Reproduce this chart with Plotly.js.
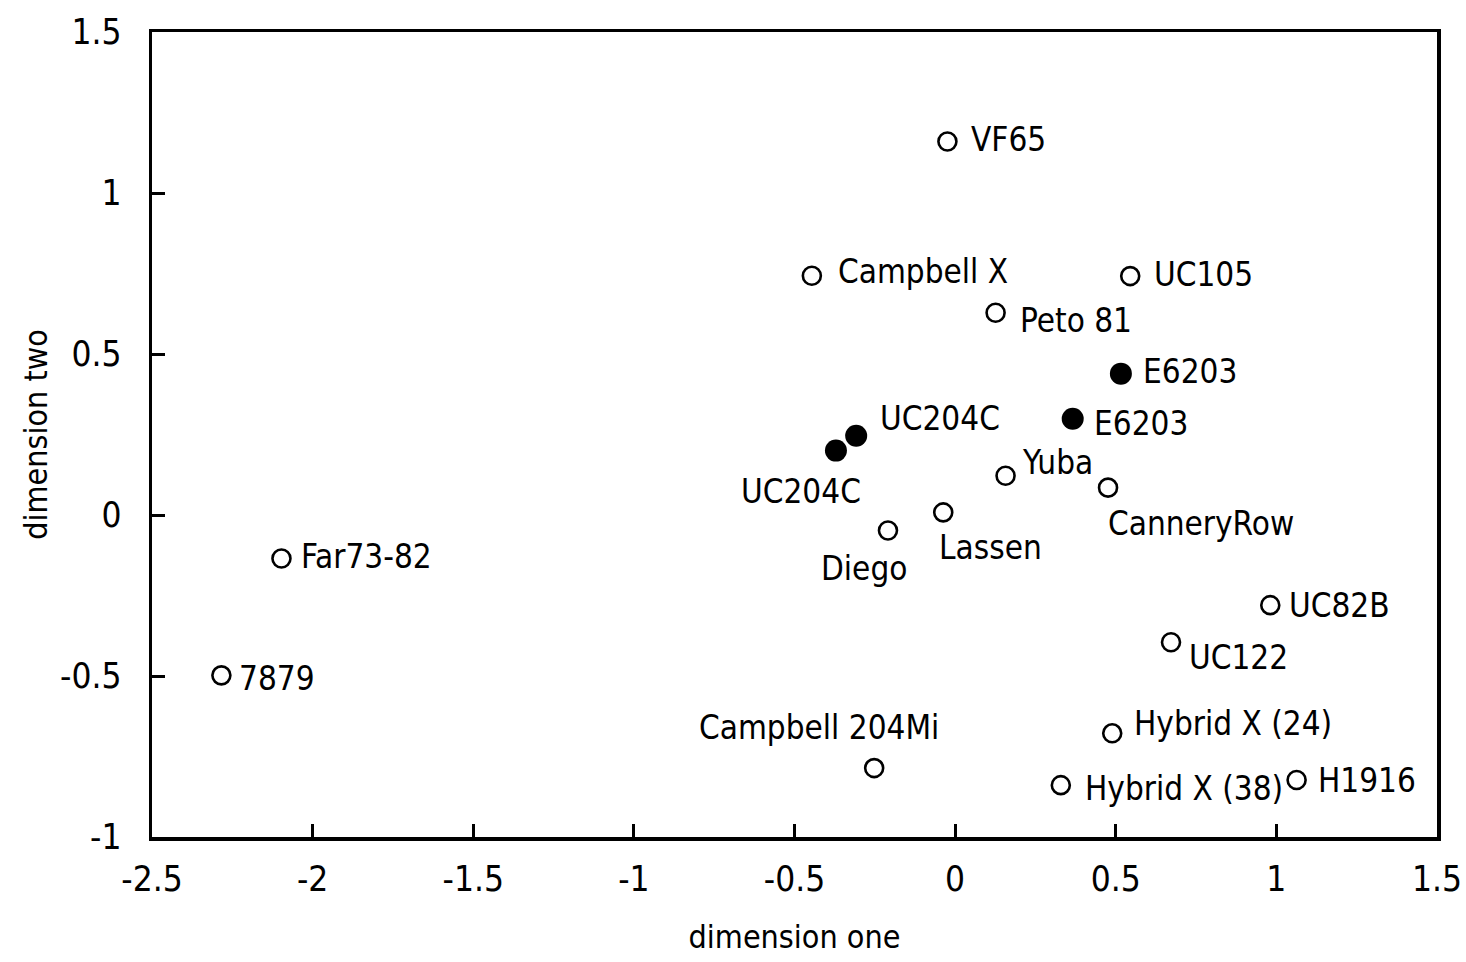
<!DOCTYPE html>
<html>
<head>
<meta charset="utf-8">
<script src="https://cdn.plot.ly/plotly-3.0.1.min.js"></script>
<style>html,body{margin:0;padding:0;background:#fff;}#chart{width:1466px;height:962px;}</style>
</head>
<body>
<div id="chart"></div>
<script>
// ---- data ----
const names = ["VF65","Campbell X","UC105","Peto 81","E6203","E6203","UC204C","UC204C","Yuba","CanneryRow","Lassen","Diego","Far73-82","7879","UC82B","UC122","Hybrid X (24)","Campbell 204Mi","Hybrid X (38)","H1916"];
const dimOne = [-0.024,-0.446,0.545,0.126,0.516,0.366,-0.308,-0.371,0.157,0.476,-0.037,-0.209,-2.097,-2.284,0.981,0.672,0.489,-0.252,0.329,1.063];
const dimTwo = [1.16,0.743,0.742,0.628,0.439,0.299,0.246,0.200,0.122,0.085,0.008,-0.048,-0.135,-0.498,-0.280,-0.395,-0.678,-0.786,-0.839,-0.823];
const filled = [false,false,false,false,true,true,true,true,false,false,false,false,false,false,false,false,false,false,false,false];
const xTickVals = [-2.5,-2,-1.5,-1,-0.5,0,0.5,1,1.5];
const xTickText = ["-2.5","-2","-1.5","-1","-0.5","0","0.5","1","1.5"];
const yTickVals = [-1,-0.5,0,0.5,1,1.5];
const yTickText = ["-1","-0.5","0","0.5","1","1.5"];

// ---- label placement (style only) ----
const labelPlace = [
  {xa:"left",dx:22,dy:2},
  {xa:"left",dx:24,dy:4},
  {xa:"left",dx:22,dy:2},
  {xa:"left",dx:22,dy:-8},
  {xa:"left",dx:20,dy:2},
  {xa:"left",dx:19,dy:-5},
  {xa:"left",dx:22,dy:17},
  {xa:"right",dx:27,dy:-41},
  {xa:"left",dx:14,dy:13},
  {xa:"left",dx:-2,dy:-36},
  {xa:"left",dx:-6,dy:-35},
  {xa:"center",dx:-24,dy:-38},
  {xa:"left",dx:18,dy:2},
  {xa:"left",dx:16,dy:-3},
  {xa:"left",dx:17,dy:0},
  {xa:"left",dx:16,dy:-15},
  {xa:"left",dx:20,dy:10},
  {xa:"center",dx:-55,dy:41},
  {xa:"left",dx:22,dy:-3},
  {xa:"left",dx:19,dy:0}
];

const FONT = '"DejaVu Sans Condensed", "Liberation Sans Narrow", sans-serif';
const LABEL_SIZE = 33;

const openIdx = names.map((n,i)=>i).filter(i=>!filled[i]);
const fillIdx = names.map((n,i)=>i).filter(i=>filled[i]);

const traces = [
  {
    type:'scatter', mode:'markers',
    x: openIdx.map(i=>dimOne[i]), y: openIdx.map(i=>dimTwo[i]),
    text: openIdx.map(i=>names[i]),
    marker:{symbol:'circle-open', size:18, color:'#000', line:{width:2.6, color:'#000'}},
    hoverinfo:'text', showlegend:false
  },
  {
    type:'scatter', mode:'markers',
    x: fillIdx.map(i=>dimOne[i]), y: fillIdx.map(i=>dimTwo[i]),
    text: fillIdx.map(i=>names[i]),
    marker:{symbol:'circle', size:22, color:'#000', line:{width:0}},
    hoverinfo:'text', showlegend:false
  }
];

const annotations = names.map((n,i)=>({
  x: dimOne[i], y: dimTwo[i], xref:'x', yref:'y',
  text: n, showarrow:false,
  xanchor: labelPlace[i].xa, yanchor:'middle',
  xshift: labelPlace[i].dx, yshift: labelPlace[i].dy,
  font:{family:FONT, size:LABEL_SIZE, color:'#000'}
}));

const layout = {
  width:1466, height:962,
  paper_bgcolor:'#fff', plot_bgcolor:'#fff',
  margin:{l:152, r:29, t:32, b:125},
  font:{family:FONT, color:'#000', size:34},
  showlegend:false,
  xaxis:{
    range:[-2.5,1.5], tickmode:'array', tickvals:xTickVals, ticktext:xTickText,
    ticks:'inside', ticklen:13, tickwidth:3, tickcolor:'#000',
    showline:true, linewidth:3.5, linecolor:'#000', mirror:true,
    showgrid:false, zeroline:false,
    tickfont:{family:FONT, size:35, color:'#000'},
    ticklabelstandoff:8,
    title:{text:'dimension one', font:{family:FONT, size:32, color:'#000'}, standoff:29}
  },
  yaxis:{
    range:[-1,1.5], tickmode:'array', tickvals:yTickVals, ticktext:yTickText,
    ticks:'inside', ticklen:13, tickwidth:3, tickcolor:'#000',
    showline:true, linewidth:3.5, linecolor:'#000', mirror:true,
    showgrid:false, zeroline:false,
    tickfont:{family:FONT, size:35, color:'#000'},
    ticklabelstandoff:20,
    title:{text:'dimension two', font:{family:FONT, size:32, color:'#000'}, standoff:4}
  },
  annotations: annotations
};

Plotly.newPlot('chart', traces, layout, {staticPlot:true, displayModeBar:false});
</script>
</body>
</html>
